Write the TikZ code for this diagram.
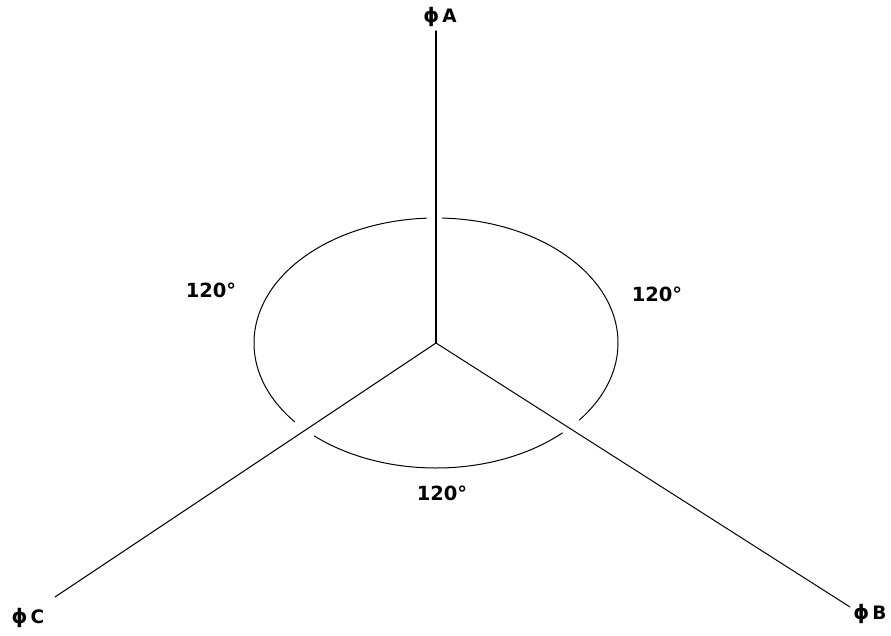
\documentclass[tikz,border=0pt]{standalone}
\usepackage{fontspec}
\setmainfont{DejaVu Sans}
\newcommand\phisign{{\fontsize{20}{20}\selectfont ϕ}\hspace{3pt}}
\begin{document}
\begin{tikzpicture}[x=1pt,y=-1pt,line cap=round]
  \useasboundingbox (0,0) rectangle (891,635);
  \tikzset{phase/.style={font=\fontsize{18.5}{20}\selectfont\bfseries,inner sep=0pt},
    angle/.style={font=\fontsize{19.5}{20}\selectfont\bfseries,inner sep=0pt},
    wire/.style={line width=1pt}}
  \coordinate (O) at (436,343);
  \coordinate (a) at (436,31);
  \coordinate (b) at (850,607);
  \coordinate (c) at (55,597);
  \draw[wire,line width=1.4pt] (O) -- (a);
  \draw[wire] (O) -- (b);
  \draw[wire] (O) -- (c);
  % circle, broken where the phases cross it
  \foreach \s/\e in {-88/38,46/132,141/267}
    \draw[wire] (O) ++(\s:182 and 125) arc[start angle=\s,end angle=\e,x radius=182,y radius=125];
  \node[phase] (la) at (440,17) {\phisign A};
  \node[phase] (lb) at (870,614) {\phisign B};
  \node[phase] (lc) at (28,618) {\phisign C};
  \node[angle] (ac) at (211,290) {120°};
  \node[angle] (ab) at (657,294) {120°};
  \node[angle] (bc) at (442,493) {120°};
\end{tikzpicture}
\end{document}
